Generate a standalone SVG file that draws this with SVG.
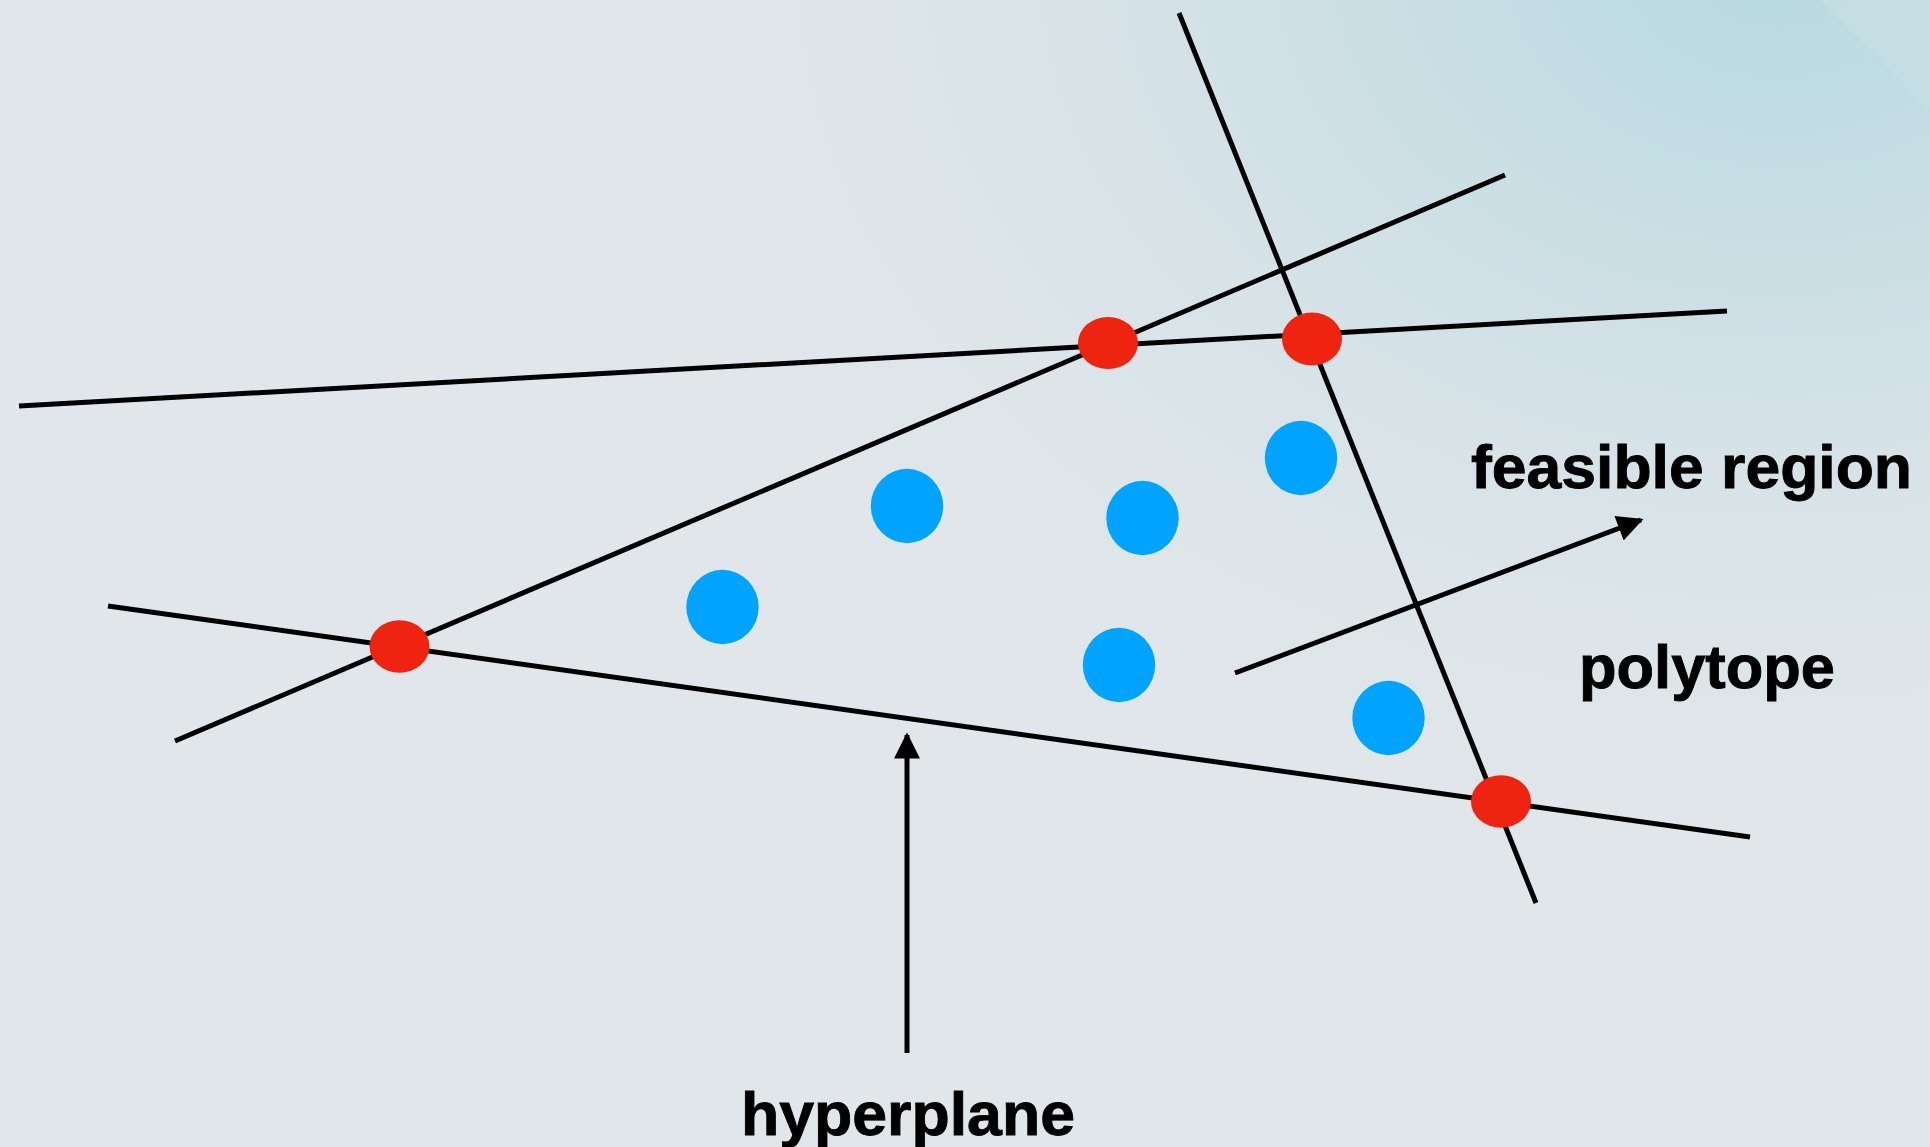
<svg xmlns="http://www.w3.org/2000/svg" width="1930" height="1147" viewBox="0 0 1930 1147">
<defs>
<radialGradient id="bg2" cx="1780" cy="-40" r="1250" gradientUnits="userSpaceOnUse" gradientTransform="translate(1780,-40) scale(1,0.75) translate(-1780,40)">
<stop offset="0" stop-color="#b7d9e1"/>
<stop offset="0.4" stop-color="#cfe0e5"/>
<stop offset="1" stop-color="#e0e6ea" stop-opacity="0"/>
</radialGradient>
<marker id="ah" viewBox="0 0 10 10" refX="9" refY="5" markerWidth="5.4" markerHeight="5.2" markerUnits="strokeWidth" orient="auto">
<path d="M0,0 L10,5 L0,10 z" fill="#000"/>
</marker>
<style>
.ln{stroke:#000;stroke-width:5;fill:none}
.ar{stroke:#000;stroke-width:5;fill:none;marker-end:url(#ah)}
.red{fill:#ee2410}
.blue{fill:#00a4ff}
.lbl{font-family:"Liberation Sans",Arial,Helvetica,sans-serif;font-weight:bold;font-size:62px;fill:#000;stroke:#000;stroke-width:0.9}
</style>
</defs>
<rect width="1930" height="1147" fill="#e0e6ea"/>
<rect width="1930" height="1147" fill="url(#bg2)"/>
<path d="M1820,0 L1930,110 L1930,0 z" fill="#cadfe4" opacity="0.6"/>
<g id="connectors">
<line class="ln" x1="19" y1="406" x2="1727" y2="311"/>
<line class="ln" x1="175" y1="741" x2="1505" y2="175"/>
<line class="ln" x1="108" y1="606" x2="1750" y2="837"/>
<line class="ln" x1="1179" y1="13" x2="1536" y2="903"/>
<line class="ar" x1="907" y1="1053" x2="907" y2="735"/>
<line class="ar" x1="1235" y1="673" x2="1641" y2="520"/>
</g>
<g id="vertex-1"><ellipse class="red" cx="1108" cy="343" rx="30" ry="26"/></g>
<g id="vertex-2"><ellipse class="red" cx="1312" cy="339" rx="30" ry="26.5"/></g>
<g id="vertex-3"><ellipse class="red" cx="399.5" cy="646.5" rx="30" ry="26.3"/></g>
<g id="vertex-4"><ellipse class="red" cx="1501" cy="801.5" rx="30" ry="26.3"/></g>
<g id="point-1"><ellipse class="blue" cx="907" cy="506" rx="36.2" ry="37.2"/></g>
<g id="point-2"><ellipse class="blue" cx="722.5" cy="607" rx="36.2" ry="37.2"/></g>
<g id="point-3"><ellipse class="blue" cx="1142.5" cy="518" rx="36.2" ry="37.2"/></g>
<g id="point-4"><ellipse class="blue" cx="1301" cy="458" rx="36.2" ry="37.2"/></g>
<g id="point-5"><ellipse class="blue" cx="1119" cy="665" rx="36.2" ry="37.2"/></g>
<g id="point-6"><ellipse class="blue" cx="1388.5" cy="718" rx="36.2" ry="37.2"/></g>
<g id="label-feasible"><text class="lbl" x="1471" y="488" textLength="441" lengthAdjust="spacingAndGlyphs">feasible region</text></g>
<g id="label-polytope"><text class="lbl" x="1579" y="688" textLength="256" lengthAdjust="spacingAndGlyphs">polytope</text></g>
<g id="label-hyperplane"><text class="lbl" x="741" y="1135" textLength="334" lengthAdjust="spacingAndGlyphs">hyperplane</text></g>
</svg>
